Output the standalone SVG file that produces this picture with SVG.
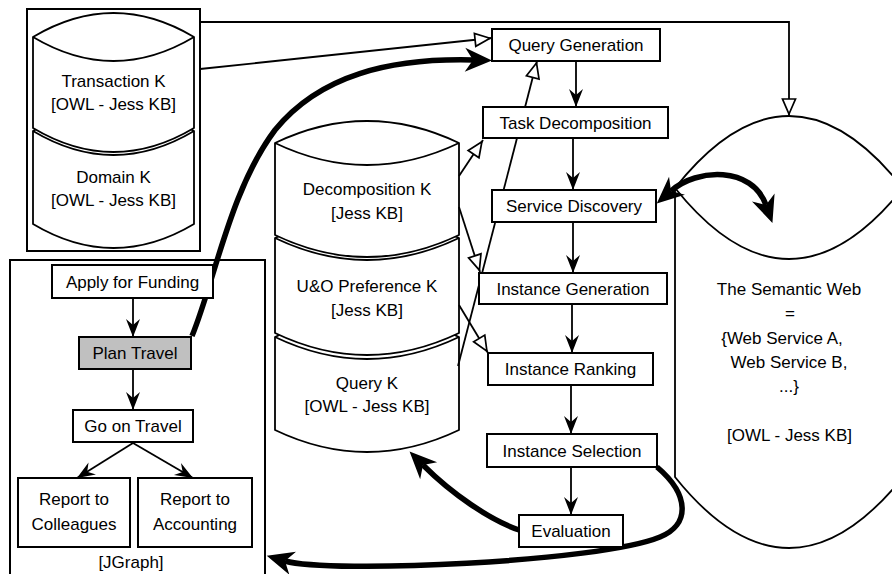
<svg xmlns="http://www.w3.org/2000/svg" width="892" height="574" viewBox="0 0 892 574">
<style>
text{font-family:"Liberation Sans",Arial,sans-serif;font-size:17px;fill:#000;text-anchor:middle}
.box{fill:#fff;stroke:#000;stroke-width:2}
.cont{fill:none;stroke:#000;stroke-width:2}
.cyl{fill:#fff;stroke:#000;stroke-width:1.8;stroke-linejoin:round}
.cap{fill:none;stroke:#000;stroke-width:1.8}
.ln{fill:none;stroke:#000;stroke-width:1.8}
.thick{fill:none;stroke:#000;stroke-width:5.5}
</style>
<defs>
<marker id="arr" markerUnits="userSpaceOnUse" orient="auto" overflow="visible" markerWidth="20" markerHeight="16" refX="0" refY="0">
<path d="M0,0 L-18,-7 L-12,0 L-18,7 Z" fill="#000"/>
</marker>
<marker id="tri" markerUnits="userSpaceOnUse" orient="auto" overflow="visible" markerWidth="20" markerHeight="16" refX="0" refY="0">
<path d="M-2,0 L-17,-6.5 L-17,6.5 Z" fill="#fff" stroke="#000" stroke-width="1.7"/>
</marker>
<marker id="big" markerUnits="userSpaceOnUse" orient="auto-start-reverse" overflow="visible" markerWidth="30" markerHeight="26" refX="0" refY="0">
<path d="M19,0 L-8,-12 L0,0 L-8,12 Z" fill="#000"/>
</marker>
</defs>

<g id="kb-container">
<rect class="cont" x="27" y="9" width="173" height="242"/>
</g>
<g id="jgraph-container">
<rect class="cont" x="10" y="260" width="255" height="320"/>
<text x="131" y="568">[JGraph]</text>
</g>

<g id="semantic-web">
<path class="cyl" d="M675,188 Q789,44 903,188 L903,477 Q789,619 675,477 Z"/>
<path class="cap" d="M675,188 Q789,330 903,188"/>
<text x="789" y="295">The Semantic Web</text>
<text x="790" y="319">=</text>
<text x="782" y="344">{Web Service A,</text>
<text x="789" y="368">Web Service B,</text>
<text x="789" y="392">...}</text>
<text x="789.5" y="441">[OWL - Jess KB]</text>
</g>

<g id="domain-k">
<path class="cyl" d="M33,131 Q113.5,83 194,131 L194,224 Q113.5,272 33,224 Z"/>
<path class="cap" d="M33,131 Q113.5,179 194,131"/>
<text x="113.5" y="183">Domain K</text>
<text x="113.5" y="206">[OWL - Jess KB]</text>
</g>
<g id="transaction-k">
<path class="cyl" d="M33,37 Q113.5,-11 194,37 L194,128 Q113.5,176 33,128 Z"/>
<path class="cap" d="M33,37 Q113.5,85 194,37"/>
<text x="113.5" y="87">Transaction K</text>
<text x="113.5" y="110">[OWL - Jess KB]</text>
</g>

<g id="query-k">
<path class="cyl" d="M275,337 Q367,293 459,337 L459,430 Q367,474 275,430 Z"/>
<path class="cap" d="M275,337 Q367,381 459,337"/>
<text x="367" y="389">Query K</text>
<text x="367" y="412">[OWL - Jess KB]</text>
</g>
<g id="uo-preference-k">
<path class="cyl" d="M275,238 Q367,194 459,238 L459,333 Q367,377 275,333 Z"/>
<path class="cap" d="M275,238 Q367,282 459,238"/>
<text x="367" y="292">U&amp;O Preference K</text>
<text x="367" y="316">[Jess KB]</text>
</g>
<g id="decomposition-k">
<path class="cyl" d="M275,143 Q367,99 459,143 L459,235 Q367,279 275,235 Z"/>
<path class="cap" d="M275,143 Q367,187 459,143"/>
<text x="367" y="195">Decomposition K</text>
<text x="367" y="219">[Jess KB]</text>
</g>

<g id="connectors">
<polyline class="ln" points="200,22 789,22 789,116" marker-end="url(#tri)"/>
<line class="ln" x1="200" y1="69" x2="492" y2="38" marker-end="url(#tri)"/>
<line class="ln" x1="459" y1="176" x2="483" y2="140" marker-end="url(#tri)"/>
<line class="ln" x1="459" y1="207" x2="480" y2="272" marker-end="url(#tri)"/>
<line class="ln" x1="459" y1="305" x2="488" y2="353" marker-end="url(#tri)"/>
<line class="ln" x1="458" y1="366" x2="537" y2="61" marker-end="url(#tri)"/>

<line class="ln" x1="576" y1="61" x2="576" y2="107" marker-end="url(#arr)"/>
<line class="ln" x1="573" y1="138" x2="573" y2="190" marker-end="url(#arr)"/>
<line class="ln" x1="573" y1="222" x2="573" y2="273" marker-end="url(#arr)"/>
<line class="ln" x1="572" y1="304" x2="572" y2="353" marker-end="url(#arr)"/>
<line class="ln" x1="571" y1="385" x2="571" y2="434" marker-end="url(#arr)"/>
<line class="ln" x1="571" y1="467" x2="571" y2="515" marker-end="url(#arr)"/>

<line class="ln" x1="133" y1="298" x2="133" y2="337" marker-end="url(#arr)"/>
<line class="ln" x1="133" y1="369" x2="133" y2="410" marker-end="url(#arr)"/>
<line class="ln" x1="133" y1="443" x2="77" y2="478" marker-end="url(#arr)"/>
<line class="ln" x1="133" y1="443" x2="193" y2="478" marker-end="url(#arr)"/>

<path class="thick" d="M192,336 C215,280 230,190 275,130 C320,75 390,58 473,60" marker-end="url(#big)"/>
<path class="thick" d="M519,530 C490,520 452,494 423,465" marker-end="url(#big)"/>
<path class="thick" d="M657,467 C690,495 690,525 660,537 C600,562 330,574 285,561" marker-end="url(#big)"/>
<path class="thick" d="M671,191 C697,168 752,166 766,205" marker-start="url(#big)" marker-end="url(#big)"/>
</g>

<g id="query-generation"><rect class="box" x="492" y="29" width="168" height="32"/><text x="576" y="51">Query Generation</text></g>
<g id="task-decomposition"><rect class="box" x="483" y="107" width="185" height="31"/><text x="575.5" y="128.5">Task Decomposition</text></g>
<g id="service-discovery"><rect class="box" x="492" y="190" width="164" height="32"/><text x="574" y="212">Service Discovery</text></g>
<g id="instance-generation"><rect class="box" x="479" y="273" width="188" height="31"/><text x="573" y="294.5">Instance Generation</text></g>
<g id="instance-ranking"><rect class="box" x="488" y="353" width="165" height="32"/><text x="570.5" y="375">Instance Ranking</text></g>
<g id="instance-selection"><rect class="box" x="487" y="434" width="170" height="33"/><text x="572" y="456.5">Instance Selection</text></g>
<g id="evaluation"><rect class="box" x="519" y="515" width="104" height="32"/><text x="571" y="537">Evaluation</text></g>

<g id="apply-for-funding"><rect class="box" x="52" y="265" width="161" height="33"/><text x="132.5" y="287.5">Apply for Funding</text></g>
<g id="plan-travel"><rect class="box" x="79" y="337" width="112" height="32" style="fill:#c0c0c0"/><text x="135" y="359">Plan Travel</text></g>
<g id="go-on-travel"><rect class="box" x="73" y="410" width="120" height="32"/><text x="133" y="432">Go on Travel</text></g>
<g id="report-colleagues"><rect class="box" x="18" y="478" width="112" height="69"/><text x="74" y="505">Report to</text><text x="74" y="530">Colleagues</text></g>
<g id="report-accounting"><rect class="box" x="138" y="478" width="114" height="69"/><text x="195" y="505">Report to</text><text x="195" y="530">Accounting</text></g>
</svg>
